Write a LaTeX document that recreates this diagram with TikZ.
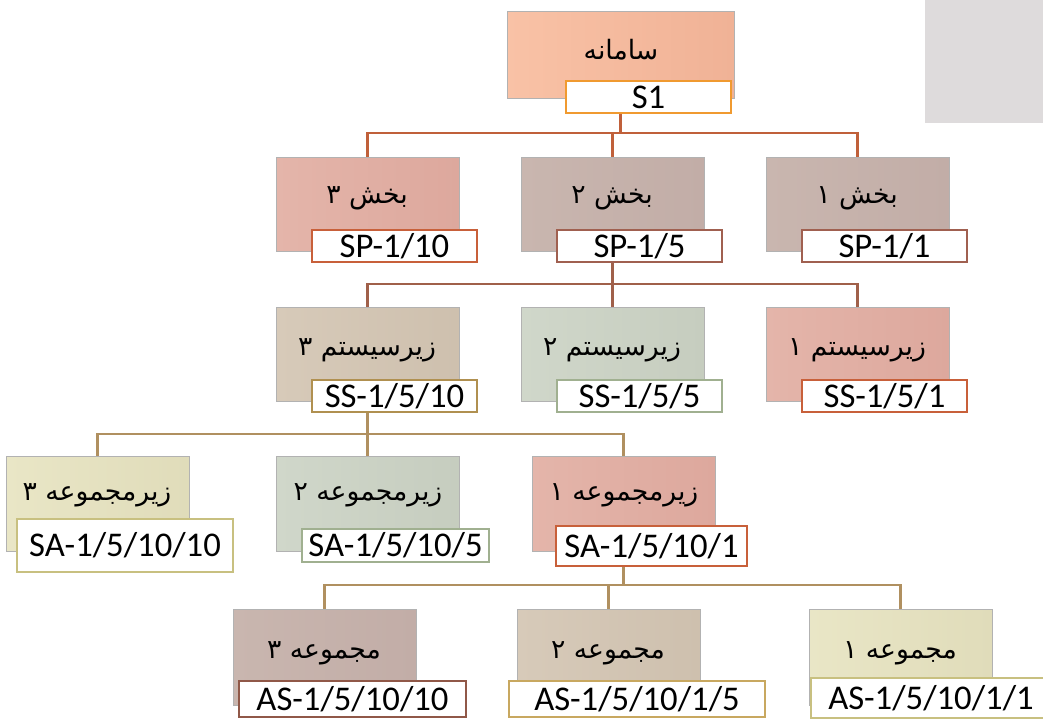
\documentclass[tikz,border=0pt]{standalone}
\usepackage{fontspec}
\setmainfont{Carlito}
\newfontfamily\fafont[Script=Arabic]{DejaVu Sans}
\TeXXeTstate=1

% fills of the boxes
\definecolor{rootA}{HTML}{F9C2A6}\definecolor{rootB}{HTML}{F0B296}
\definecolor{pinkA}{HTML}{E4B5AA}\definecolor{pinkB}{HTML}{DDA89D}
\definecolor{mauveA}{HTML}{C9B6AF}\definecolor{mauveB}{HTML}{C2ADA7}
\definecolor{sageA}{HTML}{D0D7CA}\definecolor{sageB}{HTML}{C6CDBF}
\definecolor{tanA}{HTML}{D7CAB9}\definecolor{tanB}{HTML}{CEC0AE}
\definecolor{creamA}{HTML}{E9E6C6}\definecolor{creamB}{HTML}{E0DCBA}
% tag borders and connectors
\definecolor{orangeL}{HTML}{F09A30}
\definecolor{rustL}{HTML}{C8603A}
\definecolor{brownL}{HTML}{A06050}
\definecolor{goldL}{HTML}{B09050}
\definecolor{sageL}{HTML}{A0B090}
\definecolor{creamL}{HTML}{C8C080}
\definecolor{plumL}{HTML}{905848}
\definecolor{ochreL}{HTML}{C8A860}
\definecolor{connA}{HTML}{C0603A}
\definecolor{connB}{HTML}{A0604A}
\definecolor{connC}{HTML}{B09060}
\definecolor{panel}{HTML}{DEDBDC}

\begin{document}
\begin{tikzpicture}[x=0.75pt,y=-0.75pt,
  box/.style n args={2}{anchor=north west, inner sep=0pt, outer sep=0pt,
    draw=black!30, line width=0.6pt, left color=#1, right color=#2,
    minimum width=183*0.75pt, minimum height=94*0.75pt},
  tag/.style={anchor=north west, inner sep=0pt, outer sep=0pt, fill=white,
    draw=#1, line width=1.2pt, minimum width=165*0.75pt, minimum height=32*0.75pt,
    font=\fontsize{26}{26}\selectfont},
  title/.style={font=\fafont\fontsize{20}{24}\selectfont, inner sep=0pt},
  conn/.style={line width=1.6pt, draw=#1},
]
\useasboundingbox (0,0) rectangle (1043,718);

% grey panel in the corner
\fill[panel] (925,0) rectangle (1043,123);

% bus lines
\coordinate (bus1) at (0,133);
\coordinate (bus2) at (0,284);
\coordinate (bus3) at (0,434);
\coordinate (bus4) at (0,585);

% boxes
\node[box={rootA}{rootB}, minimum width=227*0.75pt, minimum height=87*0.75pt] (root) at (507,11) {};

\node[box={pinkA}{pinkB}]   (p3) at (276,157) {};
\node[box={mauveA}{mauveB}] (p2) at (521,157) {};
\node[box={mauveA}{mauveB}] (p1) at (766,157) {};

\node[box={tanA}{tanB}]   (s3) at (276,307) {};
\node[box={sageA}{sageB}] (s2) at (521,307) {};
\node[box={pinkA}{pinkB}] (s1) at (766,307) {};

\node[box={creamA}{creamB}, minimum height=95*0.75pt] (a3) at (6,456) {};
\node[box={sageA}{sageB}, minimum height=95*0.75pt]   (a2) at (276,456) {};
\node[box={pinkA}{pinkB}, minimum height=95*0.75pt]   (a1) at (532,456) {};

\node[box={mauveA}{mauveB}, minimum height=96*0.75pt] (m3) at (233,609) {};
\node[box={tanA}{tanB}, minimum height=96*0.75pt]     (m2) at (517,609) {};
\node[box={creamA}{creamB}, minimum height=96*0.75pt] (m1) at (809,609) {};

% connectors
\draw[conn=connA] (root.south) -- (root.south |- bus1) -| (p3.north);
\draw[conn=connA] (root.south) -- (root.south |- bus1) -| (p2.north);
\draw[conn=connA] (root.south) -- (root.south |- bus1) -| (p1.north);

\draw[conn=connB] (p2.south) -- (p2.south |- bus2) -| (s3.north);
\draw[conn=connB] (p2.south) -- (p2.south |- bus2) -| (s2.north);
\draw[conn=connB] (p2.south) -- (p2.south |- bus2) -| (s1.north);

\draw[conn=connC] (s3.south) -- (s3.south |- bus3) -| (a3.north);
\draw[conn=connC] (s3.south) -- (s3.south |- bus3) -| (a2.north);
\draw[conn=connC] (s3.south) -- (s3.south |- bus3) -| (a1.north);

\draw[conn=connC] (a1.south) -- (a1.south |- bus4) -| (m3.north);
\draw[conn=connC] (a1.south) -- (a1.south |- bus4) -| (m2.north);
\draw[conn=connC] (a1.south) -- (a1.south |- bus4) -| (m1.north);

% titles
\node[title] (troot) at (621,50) {\beginR سامانه\endR};
\node[title] (tp3) at (367,198) {\beginR بخش ۳\endR};
\node[title] (tp2) at (612,198) {\beginR بخش ۲\endR};
\node[title] (tp1) at (857,198) {\beginR بخش ۱\endR};
\node[title] (ts3) at (367,350) {\beginR زیرسیستم ۳\endR};
\node[title] (ts2) at (612,350) {\beginR زیرسیستم ۲\endR};
\node[title] (ts1) at (857,350) {\beginR زیرسیستم ۱\endR};
\node[title] (ta3) at (97,495) {\beginR زیرمجموعه ۳\endR};
\node[title] (ta2) at (368,495) {\beginR زیرمجموعه ۲\endR};
\node[title] (ta1) at (624,495) {\beginR زیرمجموعه ۱\endR};
\node[title] (tm3) at (324,653) {\beginR مجموعه ۳\endR};
\node[title] (tm2) at (608,653) {\beginR مجموعه ۲\endR};
\node[title] (tm1) at (900,653) {\beginR مجموعه ۱\endR};

% code tags
\node[tag=orangeL] (lroot) at (566,81) {S1};
\node[tag=rustL]  (lp3) at (312,230) {SP-1/10};
\node[tag=brownL] (lp2) at (557,230) {SP-1/5};
\node[tag=brownL] (lp1) at (802,230) {SP-1/1};
\node[tag=goldL]  (ls3) at (312,380) {SS-1/5/10};
\node[tag=sageL]  (ls2) at (557,380) {SS-1/5/5};
\node[tag=rustL]  (ls1) at (802,380) {SS-1/5/1};
\node[tag=creamL, minimum width=216*0.75pt, minimum height=53*0.75pt] (la3) at (17,519) {SA-1/5/10/10};
\node[tag=sageL, minimum width=187*0.75pt, minimum height=33*0.75pt]  (la2) at (302,529) {SA-1/5/10/5};
\node[tag=rustL, minimum width=191*0.75pt, minimum height=40*0.75pt]  (la1) at (556,526) {SA-1/5/10/1};
\node[tag=plumL, minimum width=227*0.75pt, minimum height=36*0.75pt]  (lm3) at (239,681) {AS-1/5/10/10};
\node[tag=ochreL, minimum width=256*0.75pt, minimum height=36*0.75pt] (lm2) at (509,681) {AS-1/5/10/1/5};
\node[tag=creamL, minimum width=240*0.75pt, minimum height=40*0.75pt] (lm1) at (811,678) {AS-1/5/10/1/1};
\end{tikzpicture}
\end{document}
